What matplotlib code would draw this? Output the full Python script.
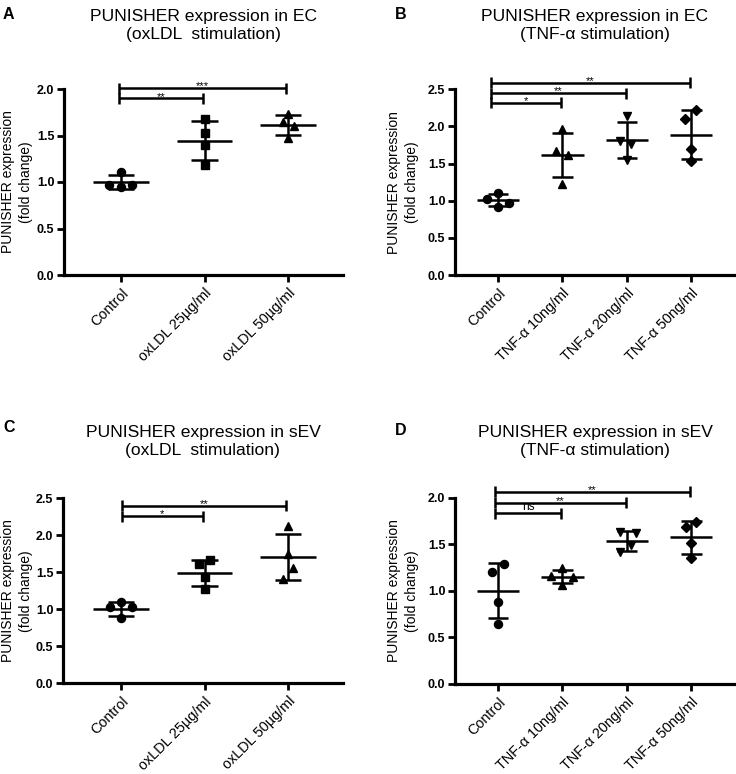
import numpy as np
import matplotlib
matplotlib.use("Agg")
import matplotlib.pyplot as plt

plt.rcParams['font.family'] = ['Liberation Sans', 'DejaVu Sans']

# ---------------- data ----------------
groups_A = ["Control", "oxLDL 25µg/ml", "oxLDL 50µg/ml"]
values_A = [[1.11, 0.97, 0.95, 0.97],
            [1.674, 1.53, 1.40, 1.18],
            [1.73, 1.65, 1.60, 1.47]]
sig_A = [(0, 2, 2.01, "***"), (0, 1, 1.90, "**")]

groups_B = ["Control", "TNF-α 10ng/ml", "TNF-α 20ng/ml", "TNF-α 50ng/ml"]
values_B = [[1.11, 1.02, 0.97, 0.92],
            [1.96, 1.667, 1.613, 1.23],
            [2.14, 1.81, 1.77, 1.546],
            [2.22, 2.106, 1.69, 1.53]]
sig_B = [(0, 3, 2.585, "**"), (0, 2, 2.45, "**"), (0, 1, 2.316, "*")]

groups_C = ["Control", "oxLDL 25µg/ml", "oxLDL 50µg/ml"]
values_C = [[1.095, 1.027, 1.027, 0.878],
            [1.666, 1.608, 1.432, 1.274],
            [2.126, 1.747, 1.554, 1.405]]
sig_C = [(0, 2, 2.40, "**"), (0, 1, 2.26, "*")]

groups_D = ["Control", "TNF-α 10ng/ml", "TNF-α 20ng/ml", "TNF-α 50ng/ml"]
values_D = [[1.283, 1.204, 0.882, 0.64],
            [1.241, 1.158, 1.15, 1.062],
            [1.628, 1.617, 1.491, 1.412],
            [1.742, 1.688, 1.51, 1.356]]
sig_D = [(0, 3, 2.064, "**"), (0, 2, 1.946, "**"), (0, 1, 1.832, "ns")]

titles = ["PUNISHER expression in EC\n(oxLDL  stimulation)",
          "PUNISHER expression in EC\n(TNF-α stimulation)",
          "PUNISHER expression in sEV\n(oxLDL  stimulation)",
          "PUNISHER expression in sEV\n(TNF-α stimulation)"]
ylabel = "PUNISHER expression\n(fold change)"

# ---------------- style / layout ----------------
W, H = 736, 774
fig = plt.figure(figsize=(W / 100, H / 100), dpi=100)

# horizontal scatter offsets of points (category units)
jit_A = [[0, -0.14, 0, 0.13], [0, 0, 0, 0], [0, -0.065, 0.067, 0]]
jit_B = [[0, -0.17, 0.17, 0], [0, -0.1, 0.08, 0], [0, -0.1, 0.07, 0], [0.08, -0.09, 0, 0]]
jit_C = [[0, -0.13, 0.13, 0], [0.06, -0.07, 0, 0], [0, 0, 0.065, -0.065]]
jit_D = [[0.09, -0.09, 0, 0], [0, -0.18, 0.17, 0], [-0.1, 0.15, 0.06, -0.1], [0.08, -0.08, 0, 0]]

mk3 = ['o', 's', '^']
mk4 = ['o', '^', 'v', 'D']
msize = {'o': 5.8, 's': 5.4, '^': 6.2, 'v': 6.2, 'D': 4.8}

panels = [
    dict(box=(64, 343, 89, 275), ymax=2.0, xl=(-0.683, 2.659), groups=groups_A, vals=values_A,
         jit=jit_A, mk=mk3, sig=sig_A, left_off=-0.02, letter='A', lx=3, ly=7, ty=9, ylx=17),
    dict(box=(455, 735, 89.3, 275), ymax=2.5, xl=(-0.668, 3.68), groups=groups_B, vals=values_B,
         jit=jit_B, mk=mk4, sig=sig_B, left_off=-0.11, letter='B', lx=395, ly=7, ty=9, ylx=403),
    dict(box=(63, 343, 498.3, 683.3), ymax=2.5, xl=(-0.695, 2.659), groups=groups_C, vals=values_C,
         jit=jit_C, mk=mk3, sig=sig_C, left_off=0.01, letter='C', lx=3, ly=420, ty=425, ylx=17),
    dict(box=(455, 735, 497.7, 684), ymax=2.0, xl=(-0.668, 3.68), groups=groups_D, vals=values_D,
         jit=jit_D, mk=mk4, sig=sig_D, left_off=-0.045, letter='D', lx=395, ly=423, ty=425, ylx=403),
]

LW = 1.8
for p, title in zip(panels, titles):
    x0, x1, yt, yb = p['box']
    ax = fig.add_axes([x0 / W, 1 - yb / H, (x1 - x0) / W, (yb - yt) / H])
    ax.set_xlim(*p['xl'])
    ax.set_ylim(0, p['ymax'])
    for s in ['top', 'right']:
        ax.spines[s].set_visible(False)
    for s in ['left', 'bottom']:
        ax.spines[s].set_linewidth(2.3)
    yt_vals = np.arange(0, p['ymax'] + 0.01, 0.5)
    ax.set_yticks(yt_vals)
    ax.set_yticklabels([f"{v:.1f}" for v in yt_vals], fontweight='bold', fontsize=9)
    n = len(p['groups'])
    xs = np.arange(n)
    ax.set_xticks(xs)
    ax.set_xticklabels(p['groups'], rotation=45, ha='right', va='top',
                       rotation_mode='anchor', fontsize=10.4)
    ax.tick_params(axis='both', direction='out', length=5, width=2.0, pad=2)
    ax.tick_params(axis='x', pad=3)

    for i, (vals, offs, m) in enumerate(zip(p['vals'], p['jit'], p['mk'])):
        v = np.array(vals)
        mean = v.mean()
        sd = v.std(ddof=1)
        ax.plot(i + np.array(offs), v, linestyle='none', marker=m, ms=msize[m],
                color='black', zorder=3, clip_on=False)
        ax.plot([i - 0.33, i + 0.33], [mean, mean], color='black', lw=LW, solid_capstyle='butt', zorder=4)
        ax.plot([i, i], [mean - sd, mean + sd], color='black', lw=LW, solid_capstyle='butt', zorder=4)
        for yy in (mean - sd, mean + sd):
            ax.plot([i - 0.16, i + 0.16], [yy, yy], color='black', lw=LW, solid_capstyle='butt', zorder=4)

    # significance brackets
    px_per_unit = (yb - yt) / p['ymax']
    th = 5.5 / px_per_unit
    for (a, b, yv, lab) in p['sig']:
        xa = a + p['left_off']
        xb = b - 0.02
        ax.plot([xa, xb], [yv, yv], color='black', lw=LW, clip_on=False, solid_capstyle='butt')
        ax.plot([xa, xa], [yv - th, yv + th], color='black', lw=LW, clip_on=False, solid_capstyle='butt')
        ax.plot([xb, xb], [yv - th, yv + th], color='black', lw=LW, clip_on=False, solid_capstyle='butt')
        if lab == 'ns':
            ax.text((xa + xb) / 2, yv + 0.6 / px_per_unit, lab, ha='center', va='bottom',
                    fontsize=8.5, clip_on=False)
        else:
            ax.text((xa + xb) / 2, yv - 1.5 / px_per_unit, lab, ha='center', va='baseline',
                    fontsize=8, clip_on=False)

    ax.set_ylabel(ylabel, fontsize=10, linespacing=1.3, va='center')
    ax.yaxis.set_label_coords((p['ylx'] - x0) / (x1 - x0), 0.5)

    fig.text(((x0 + x1) / 2) / W, 1 - p['ty'] / H, title, ha='center', va='top',
             fontsize=12.6, linespacing=1.22)
    fig.text(p['lx'] / W, 1 - p['ly'] / H, p['letter'], ha='left', va='top',
             fontsize=11.5, fontweight='bold')

fig.savefig("out.png", dpi=100)
